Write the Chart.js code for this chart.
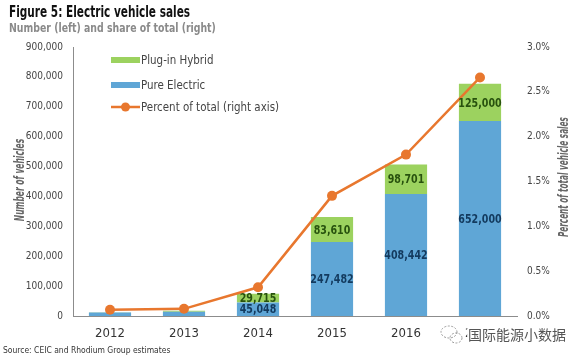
<!DOCTYPE html>
<html>
<head>
<meta charset="utf-8">
<script src="https://cdn.jsdelivr.net/npm/chart.js"></script>
<style>
  html, body { margin: 0; padding: 0; background: #fff; }
  #wrap { width: 588px; height: 358px; position: relative; }
</style>
</head>
<body>
<div id="wrap"><canvas id="evChart" width="588" height="358"></canvas></div>
<script>
// data
const years = ['2012', '2013', '2014', '2015', '2016', '2017'];
const pureElectric = [11375, 14604, 45048, 247482, 408442, 652000];
const plugInHybrid = [1416, 3038, 29715, 83610, 98701, 125000];
const pctOfTotal = [0.07, 0.08, 0.32, 1.34, 1.80, 2.66];
const leftTicks = [0, 100000, 200000, 300000, 400000, 500000, 600000, 700000, 800000, 900000];
const labelFrom = 2; // value labels only from 2014 on

const FONT = '"DejaVu Sans Condensed", "DejaVu Sans", sans-serif';
const BLUE = '#5fa6d6';
const GREEN = '#9cd25f';
const ORANGE = '#e8772e';

const fmt = v => v.toLocaleString('en-US');

// squeezed text, the source uses a narrow face
function narrowText(ctx, txt, x, y, sx) {
  ctx.save();
  ctx.translate(x, y);
  ctx.scale(sx, 1);
  ctx.fillText(txt, 0, 0);
  ctx.restore();
}

const decor = {
  id: 'decor',
  afterDatasetsDraw(chart) {
    const ctx = chart.ctx;
    ctx.save();
    ctx.textAlign = 'center';
    ctx.textBaseline = 'middle';
    ctx.font = 'bold 12px ' + FONT;
    [0, 1].forEach(di => {
      const meta = chart.getDatasetMeta(di);
      const vals = chart.data.datasets[di].data;
      meta.data.forEach((bar, i) => {
        if (i < labelFrom) return;
        const p = bar.getProps(['x', 'y', 'base'], true);
        ctx.fillStyle = di === 0 ? '#133a5e' : '#28520e';
        narrowText(ctx, fmt(vals[i]), p.x, (p.y + p.base) / 2 + 1, 0.88);
      });
    });
    ctx.restore();
  },
  afterDraw(chart) {
    const ctx = chart.ctx;
    ctx.save();
    // title
    ctx.textAlign = 'left';
    ctx.textBaseline = 'alphabetic';
    ctx.fillStyle = '#111';
    ctx.font = 'bold 15px ' + FONT;
    narrowText(ctx, 'Figure 5: Electric vehicle sales', 9, 17, 0.78);
    ctx.fillStyle = '#8a8a8a';
    ctx.font = 'bold 13px ' + FONT;
    narrowText(ctx, 'Number (left) and share of total (right)', 9, 32, 0.8);

    // legend
    const lx = 111, items = [
      { y: 60, label: 'Plug-in Hybrid', color: GREEN, type: 'box' },
      { y: 85, label: 'Pure Electric', color: BLUE, type: 'box' },
      { y: 107, label: 'Percent of total (right axis)', color: ORANGE, type: 'line' }
    ];
    ctx.font = '13px ' + FONT;
    ctx.textBaseline = 'middle';
    items.forEach(it => {
      if (it.type === 'box') {
        ctx.fillStyle = it.color;
        ctx.fillRect(lx, it.y - 3, 29, 6);
      } else {
        ctx.strokeStyle = it.color;
        ctx.lineWidth = 2.5;
        ctx.beginPath();
        ctx.moveTo(lx, it.y);
        ctx.lineTo(lx + 29, it.y);
        ctx.stroke();
        ctx.fillStyle = it.color;
        ctx.beginPath();
        ctx.arc(lx + 14.5, it.y, 4.5, 0, Math.PI * 2);
        ctx.fill();
      }
      ctx.fillStyle = '#444';
      narrowText(ctx, it.label, lx + 30, it.y + 1, 0.88);
    });

    // axis titles
    ctx.fillStyle = '#666';
    ctx.font = 'italic bold 14px ' + FONT;
    ctx.textAlign = 'center';
    ctx.save();
    ctx.translate(20, 180);
    ctx.rotate(-Math.PI / 2);
    narrowText(ctx, 'Number of vehicles', 0, 0, 0.6);
    ctx.restore();
    ctx.save();
    ctx.translate(564, 177);
    ctx.rotate(-Math.PI / 2);
    narrowText(ctx, 'Percent of total vehicle sales', 0, 0, 0.58);
    ctx.restore();

    // source
    ctx.textAlign = 'left';
    ctx.fillStyle = '#333';
    ctx.font = '9px ' + FONT;
    narrowText(ctx, 'Source: CEIC and Rhodium Group estimates', 3, 351, 0.94);

    // watermark
    ctx.strokeStyle = '#fff';
    ctx.lineWidth = 4;
    ctx.lineJoin = 'round';
    ctx.font = '14px "Noto Sans CJK SC", sans-serif';
    ctx.strokeText('国际能源小数据', 468, 335);
    ctx.fillStyle = '#555';
    ctx.fillText('国际能源小数据', 468, 335);
    ctx.strokeStyle = '#999';
    ctx.lineWidth = 1;
    ctx.setLineDash([2, 1.5]);
    ctx.beginPath();
    ctx.ellipse(449, 332, 8, 6, 0, 0, Math.PI * 2);
    ctx.stroke();
    ctx.beginPath();
    ctx.ellipse(456, 338, 6, 5, 0, 0, Math.PI * 2);
    ctx.stroke();
    ctx.restore();
  }
};

new Chart(document.getElementById('evChart'), {
  data: {
    labels: years,
    datasets: [
      {
        type: 'bar',
        label: 'Pure Electric',
        data: pureElectric,
        backgroundColor: BLUE,
        yAxisID: 'y',
        stack: 'ev',
        order: 2,
        barPercentage: 0.57,
        categoryPercentage: 1
      },
      {
        type: 'bar',
        label: 'Plug-in Hybrid',
        data: plugInHybrid,
        backgroundColor: GREEN,
        yAxisID: 'y',
        stack: 'ev',
        order: 2,
        barPercentage: 0.57,
        categoryPercentage: 1
      },
      {
        type: 'line',
        label: 'Percent of total (right axis)',
        data: pctOfTotal,
        borderColor: ORANGE,
        backgroundColor: ORANGE,
        borderWidth: 2.5,
        pointRadius: 5,
        pointBorderWidth: 0,
        tension: 0,
        yAxisID: 'y1',
        order: 1
      }
    ]
  },
  options: {
    responsive: false,
    animation: false,
    layout: { padding: { top: 47, left: 0, right: 0, bottom: 0 } },
    plugins: {
      legend: { display: false },
      tooltip: { enabled: false }
    },
    scales: {
      x: {
        stacked: true,
        grid: { display: false, drawTicks: false },
        border: { color: '#8c8c8c', width: 1 },
        ticks: { color: '#333', font: { family: FONT, size: 13 }, padding: 10 },
        afterFit: s => { s.height = 42; }
      },
      y: {
        stacked: true,
        position: 'left',
        min: 0,
        max: 900000,
        afterBuildTicks: s => { s.ticks = leftTicks.map(v => ({ value: v })); },
        grid: { display: false, drawTicks: false },
        border: { color: '#8c8c8c', width: 1 },
        ticks: { color: '#444', font: { family: FONT, size: 10 }, padding: 10, callback: v => fmt(v) },
        afterFit: s => { s.width = 73; }
      },
      y1: {
        position: 'right',
        min: 0,
        max: 3,
        grid: { display: false, drawTicks: false },
        border: { display: false },
        ticks: { stepSize: 0.5, color: '#444', font: { family: FONT, size: 10 }, padding: 10, callback: v => v.toFixed(1) + '%' },
        afterFit: s => { s.width = 71; }
      }
    }
  },
  plugins: [decor]
});
</script>
</body>
</html>
